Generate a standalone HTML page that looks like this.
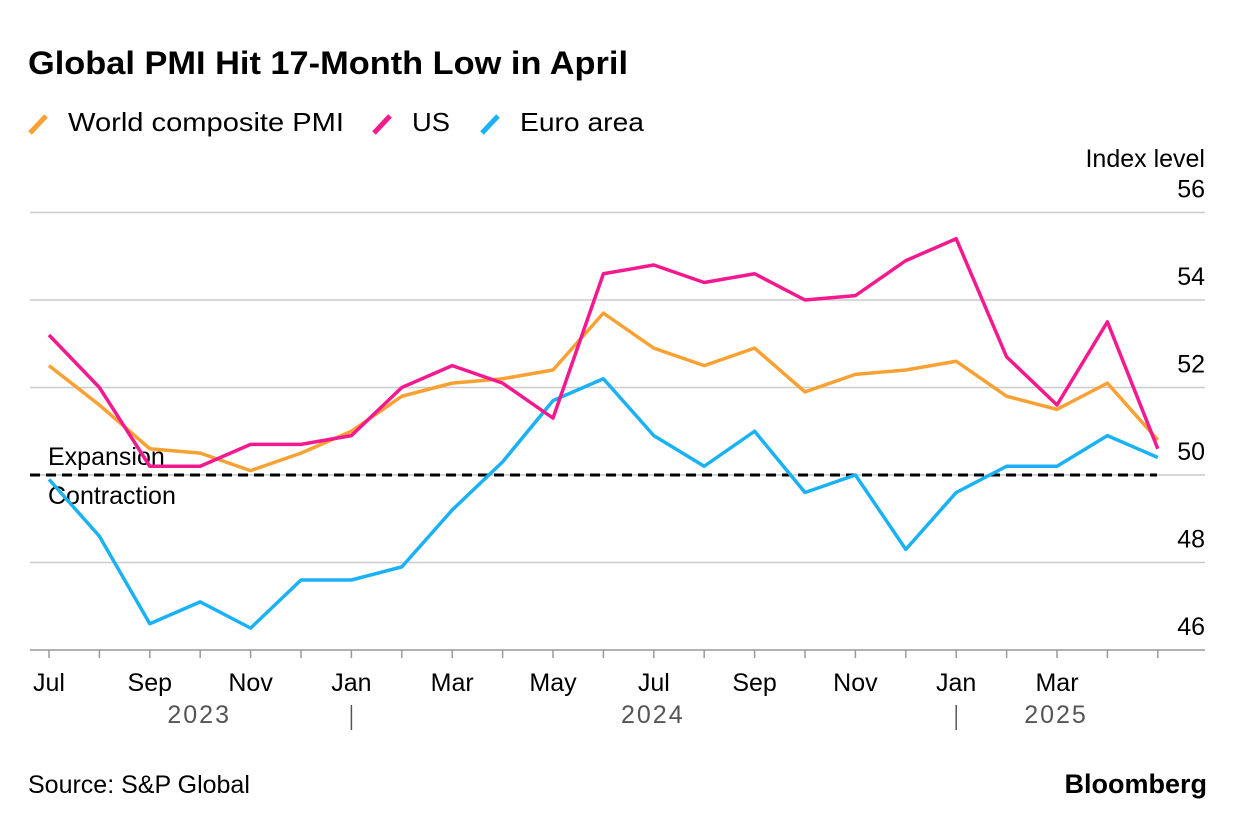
<!DOCTYPE html>
<html><head><meta charset="utf-8"><style>
body{margin:0;background:#fff;width:1237px;height:826px;overflow:hidden;font-family:"Liberation Sans",sans-serif;}
svg text{font-family:"Liberation Sans",sans-serif;}
</style></head><body>
<svg width="1237" height="826">
<text x="28" y="74" font-size="32" font-weight="bold" fill="#000" textLength="600" lengthAdjust="spacingAndGlyphs">Global PMI Hit 17-Month Low in April</text>
<g id="legend"></g>
<text x="1205" y="167" font-size="25" text-anchor="end">Index level</text>
<g id="grid"></g><g id="xaxis"></g><g id="lines"></g>
<text x="28" y="793" font-size="25">Source: S&amp;P Global</text>
<text x="1207" y="793" font-size="27" font-weight="bold" text-anchor="end">Bloomberg</text>
</svg>
<script>
const months=["Jul","Aug","Sep","Oct","Nov","Dec","Jan","Feb","Mar","Apr","May","Jun","Jul","Aug","Sep","Oct","Nov","Dec","Jan","Feb","Mar","Apr","May"];
const world=[52.5,51.6,50.6,50.5,50.1,50.5,51.0,51.8,52.1,52.2,52.4,53.7,52.9,52.5,52.9,51.9,52.3,52.4,52.6,51.8,51.5,52.1,50.8];
const us=[53.2,52.0,50.2,50.2,50.7,50.7,50.9,52.0,52.5,52.1,51.3,54.6,54.8,54.4,54.6,54.0,54.1,54.9,55.4,52.7,51.6,53.5,50.6];
const euro=[49.9,48.6,46.6,47.1,46.5,47.6,47.6,47.9,49.2,50.3,51.7,52.2,50.9,50.2,51.0,49.6,50.0,48.3,49.6,50.2,50.2,50.9,50.4];
const yTicks=[46,48,50,52,54,56];
const years=[{label:"2023",i:3},{label:"2024",i:12},{label:"2025",i:20}];
const yearBreaks=[6,18];
const NS="http://www.w3.org/2000/svg";
const x=i=>49+i*50.4;
const y=v=>475-(v-50)*43.75;
function mk(tag,attrs,parent,text){const e=document.createElementNS(NS,tag);for(const k in attrs)e.setAttribute(k,attrs[k]);if(text!==undefined)e.textContent=text;parent.appendChild(e);return e;}
const grid=document.getElementById('grid');
yTicks.forEach(t=>{
 if(t>46){const l=mk('line',{x1:30,x2:1205,y1:y(t),y2:y(t),stroke:'#ccc','stroke-width':1.5},grid);
 
 }
 const tx=mk('text',{x:1205,y:y(t)-15,'font-size':25,'text-anchor':'end'},grid,t);
 
 
});
const zl=mk('line',{x1:30,x2:1157,y1:y(50),y2:y(50),stroke:'#000','stroke-width':3,'stroke-dasharray':'10,6'},grid);


const e1=mk('text',{x:48,y:y(50)-10,'font-size':25},grid,'Expansion');


const e2=mk('text',{x:48,y:y(50)+29,'font-size':25},grid,'Contraction');


const xa=document.getElementById('xaxis');
const base=mk('line',{x1:30,x2:1205,y1:650,y2:650,stroke:'#999','stroke-width':1.5},xa);


months.forEach((m,i)=>{
 const t=mk('line',{x1:x(i),x2:x(i),y1:650,y2:658,stroke:'#999','stroke-width':1.5},xa);
 
 
 if(i%2===0&&i<months.length-1){const tx=mk('text',{x:x(i),y:691,'font-size':25,'text-anchor':'middle'},xa,m);
 
 }
});
years.forEach(o=>{const t=mk('text',{x:x(o.i)-1,y:723,'font-size':25,'text-anchor':'middle',fill:'#555','letter-spacing':'2'},xa,o.label);
 
 });
yearBreaks.forEach(i=>{const l=mk('line',{x1:x(i),x2:x(i),y1:705,y2:730,stroke:'#555','stroke-width':1.5},xa);
 
 });
const series=[{n:'euro-area',d:euro,c:'#1ab2f5'},{n:'world-composite-pmi',d:world,c:'#f9a133'},{n:'us',d:us,c:'#f4198e'}];
const lg=document.getElementById('lines');
series.forEach(s=>{const p=mk('polyline',{points:s.d.map((v,i)=>x(i)+','+y(v)).join(' '),fill:'none',stroke:s.c,'stroke-width':3.5,'stroke-linejoin':'round'},lg);
 
 });
const leg=document.getElementById('legend');
[{t:'World composite PMI',c:'#f9a133',x:30,w:276},{t:'US',c:'#f4198e',x:374,w:38},{t:'Euro area',c:'#1ab2f5',x:482,w:124}].forEach(o=>{
 const g=mk('g',{},leg);
 
 
 mk('line',{x1:o.x,y1:133,x2:o.x+16,y2:116,stroke:o.c,'stroke-width':5},g);
 mk('text',{x:o.x+38,y:131,'font-size':26,textLength:o.w,lengthAdjust:'spacingAndGlyphs'},g,o.t);
});
</script>
</body></html>
